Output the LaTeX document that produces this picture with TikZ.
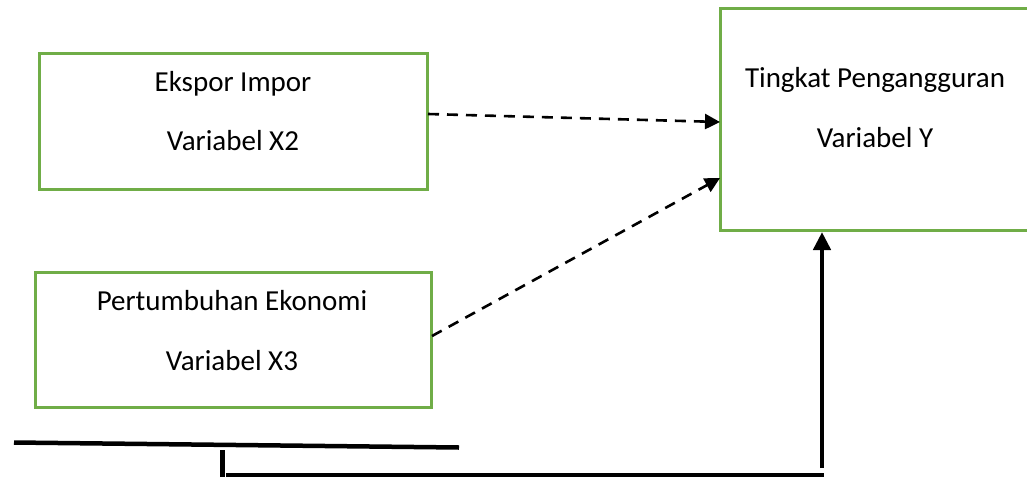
\documentclass[tikz,border=0pt]{standalone}
\usepackage{fontspec}
\setmainfont{Carlito}
\usetikzlibrary{arrows.meta}
\definecolor{boxgreen}{HTML}{70AD47}
\tikzset{
  box/.style={draw=boxgreen, line width=3pt, inner sep=0pt, outer sep=0pt},
  txt/.style={anchor=base, font=\fontsize{29}{35}\selectfont, inner sep=0pt},
  dasharrow/.style={line width=2.6pt, dash pattern=on 11pt off 8pt, -{Triangle[length=15pt,width=15pt]}},
  thick line/.style={line width=4.5pt},
  solidarrow/.style={line width=4.5pt, -{Triangle[length=18pt,width=17pt]}}
}
\begin{document}
\begin{tikzpicture}[x=1pt,y=-1pt]
\useasboundingbox (0,0) rectangle (1027,479);
% boxes
\node[box, minimum width=388pt, minimum height=136pt] (bx2) at (233,121) {};
\node[box, minimum width=396pt, minimum height=135pt] (bx3) at (233.5,339.5) {};
\node[box, minimum width=311pt, minimum height=222pt] (by) at (875.5,119) {};
% texts
\node[txt] (t2a) at (233,91) {Ekspor Impor};
\node[txt] (t2b) at (233,150) {Variabel X2};
\node[txt] (t3a) at (232,310) {Pertumbuhan Ekonomi};
\node[txt] (t3b) at (232,370) {Variabel X3};
\node[txt] (tya) at (875,87) {Tingkat Pengangguran};
\node[txt] (tyb) at (875,147) {Variabel Y};
% dashed connectors
\coordinate (s2) at (428,114);
\coordinate (e2) at (720,122);
\coordinate (s3) at (432,336);
\coordinate (e3) at (720,178);
\draw[dasharrow] (s2) -- (e2);
\draw[dasharrow] (s3) -- (e3);
% bottom lines
\coordinate (la) at (14,442.5);
\coordinate (lb) at (459,447.5);
\draw[thick line] (la) -- (lb);
\coordinate (va) at (222,450);
\coordinate (vb) at (222,477);
\draw[line width=5pt] (va) -- (vb);
\coordinate (ha) at (226,475);
\coordinate (hb) at (823.5,475);
\draw[thick line] (ha) -- (hb);
\coordinate (ua) at (822,468);
\coordinate (ub) at (822,232);
\draw[solidarrow] (ua) -- (ub);
\end{tikzpicture}
\end{document}
